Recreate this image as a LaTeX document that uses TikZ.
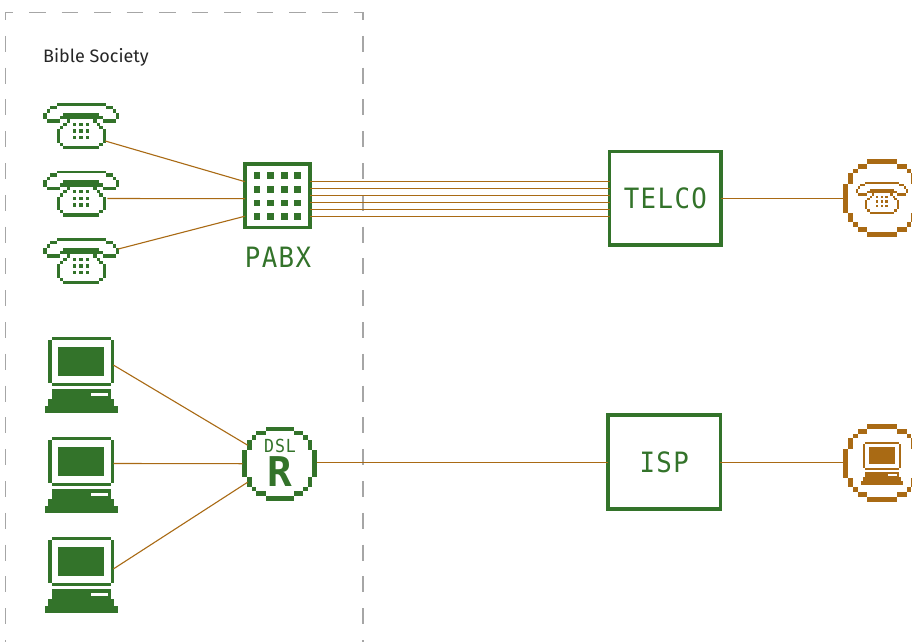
\documentclass[tikz,border=0pt]{standalone}
\usepackage{fontspec}
\setmainfont{Fira Sans}
\newfontfamily\pixfont[FakeStretch=.92,LetterSpace=5]{DejaVu Sans Mono}
\newfontfamily\boldpix{DejaVu Sans Mono}
\definecolor{grn}{HTML}{33732A}
\definecolor{brn}{HTML}{A96A14}
\definecolor{dsh}{HTML}{A6A6A6}
\newcommand{\px}[4]{\fill ({(#1)/3},{(#2)/3}) rectangle ({(#3)/3},{(#4)/3});}
\tikzset{
  x=1pt,y=-1pt,
  link/.style={draw=brn,line width=1.1pt},
  hdash/.style={dsh,line width=1.3pt,dash pattern=on 16.5pt off 16pt,dash phase=9pt},
  vdash/.style={dsh,line width=1.3pt,dash pattern=on 16pt off 15.8pt,dash phase=8.5pt},
  boxnode/.style={draw=grn,line width=3.3pt,fill=white,inner sep=0pt,outer sep=0pt,text=grn},
  holder/.style={inner sep=0pt,outer sep=0pt},
  lbl/.style={font=\pixfont\fontsize{28}{28}\selectfont,text=grn,inner sep=0pt},
  phonepic/.pic={
    \begin{scope}[shift={(-154/3,-40/3)}]
    \px{80}{40}{228}{48}\px{60}{48}{80}{58}\px{228}{48}{248}{58}
    \px{50}{58}{60}{68}\px{248}{58}{258}{68}
    \px{40}{68}{50}{88}\px{258}{68}{268}{88}
    \px{50}{88}{90}{98}\px{218}{88}{258}{98}
    \px{100}{68}{208}{88}\px{90}{78}{100}{88}\px{208}{78}{218}{88}
    \px{110}{88}{120}{98}\px{190}{88}{200}{98}
    \px{100}{98}{110}{108}\px{200}{98}{210}{108}
    \px{90}{108}{100}{118}\px{208}{108}{218}{118}
    \px{80}{118}{90}{158}\px{218}{118}{228}{158}
    \px{90}{158}{100}{168}\px{208}{158}{218}{168}
    \px{100}{168}{208}{178}
    \foreach \a in {128,148,168}{\foreach \b in {98,118,138}{\px{\a}{\b}{\a+10}{\b+10}}}
    \end{scope}
  },
  pcpic/.pic={
    \begin{scope}[shift={(-139/3,-20/3)}]
    \px{50}{20}{228}{30}\px{40}{30}{50}{158}\px{228}{30}{238}{158}\px{50}{158}{228}{168}
    \px{70}{50}{208}{138}
    \px{50}{178}{228}{208}\px{40}{208}{238}{228}\px{30}{228}{248}{248}
    \fill[white] (168/3,188/3) rectangle (218/3,198/3);
    \end{scope}
  },
  ringpic/.pic={
    \begin{scope}[shift={(-134/3,-131/3)}]
    \px{92}{20}{176}{32}\px{64}{32}{92}{46}\px{176}{32}{204}{46}
    \px{50}{46}{64}{60}\px{204}{46}{218}{60}
    \px{36}{60}{50}{90}\px{218}{60}{232}{90}
    \px{22}{90}{36}{172}\px{232}{90}{246}{172}
    \px{36}{172}{50}{200}\px{218}{172}{232}{200}
    \px{50}{200}{64}{214}\px{204}{200}{218}{214}
    \px{64}{214}{92}{228}\px{176}{214}{204}{228}
    \px{92}{228}{176}{242}
    \end{scope}
  }
}
\begin{document}
\begin{tikzpicture}
\useasboundingbox (0,0) rectangle (912,642);
\fill[white] (0,0) rectangle (912,642);
% dashed group boundary
\draw[hdash] (5.5,12.5) -- (363,12.5);
\draw[hdash] (363,12.5) -- (355,12.5);
\draw[vdash] (5.5,12.5) -- (5.5,642);
\draw[vdash] (363,12.5) -- (363,642);
\node[anchor=west,inner sep=0pt,font=\fontsize{18}{18}\selectfont,text=black!85] (grp) at (43,57) {Bible Society};

% phones
\node[holder,minimum width=76pt,minimum height=46pt] (ph1) at (81.3,126) {};
\node[holder,minimum width=76pt,minimum height=46pt] (ph2) at (81.3,193.5) {};
\node[holder,minimum width=76pt,minimum height=46pt] (ph3) at (81.3,261) {};
\pic[fill=grn] at (81.3,103.3) {phonepic};
\pic[fill=grn] at (81.3,170.8) {phonepic};
\pic[fill=grn] at (81.3,238.3) {phonepic};

% computers
\node[holder,minimum width=72pt,minimum height=76pt] (pc1) at (81.3,375) {};
\node[holder,minimum width=72pt,minimum height=76pt] (pc2) at (81.3,475) {};
\node[holder,minimum width=72pt,minimum height=76pt] (pc3) at (81.3,575) {};
\pic[fill=grn] at (81.3,336.7) {pcpic};
\pic[fill=grn] at (81.3,436.7) {pcpic};
\pic[fill=grn] at (81.3,536.7) {pcpic};

% nodes
\node[boxnode,minimum width=65pt,minimum height=63.5pt] (pabx) at (277.5,195.7) {};
\foreach \a in {257,270.6,284.3,297.7}{\foreach \b in {175.7,189.3,203,216.3}{
  \fill[grn] (\a-3.3,\b-3.3) rectangle (\a+3.3,\b+3.3);}}
\node[lbl] (pabxl) at (278,257) {PABX};

\node[boxnode,minimum width=111.4pt,minimum height=93.4pt,lbl] (telco) at (665.4,198.4) {TELCO};
\node[boxnode,minimum width=112.3pt,minimum height=94pt,lbl] (isp) at (664.2,462) {ISP};

\node[holder,circle,minimum size=74pt] (dsl) at (279.7,463.7) {};
\pic[fill=grn] at (279.7,463.7) {ringpic};
\node[inner sep=0pt,text=grn,font=\pixfont\fontsize{18}{18}\selectfont] (dsltxt) at (280,446) {DSL};
\node[inner sep=0pt,text=grn,font=\boldpix\bfseries\fontsize{41}{41}\selectfont] (dslr) at (280,472) {R};

\node[holder,circle,minimum size=78pt] (ext1) at (882,198.3) {};
\pic[fill=brn,scale=1.05] at (882,198.3) {ringpic};
\pic[fill=brn,scale=.69] at (882,182.3) {phonepic};
\node[holder,circle,minimum size=78pt] (ext2) at (882,463.3) {};
\pic[fill=brn,scale=1.05] at (882,463.3) {ringpic};
\pic[fill=brn,scale=.57] at (882,441.7) {pcpic};

% connectors
\draw[link] ([shift={(24,15)}]ph1.center) -- ([yshift=14pt]pabx.west);
\draw[link] ([shift={(26,5)}]ph2.center) -- ([yshift=-3pt]pabx.west);
\draw[link] ([shift={(37,-12)}]ph3.center) -- ([yshift=-20.5pt]pabx.west);
\draw[link] ([shift={(32,-10)}]pc1.center) -- (dsl.150);
\draw[link] ([shift={(32,-11.5)}]pc2.center) -- (dsl.west);
\draw[link] ([shift={(32,-6)}]pc3.center) -- (dsl.210);
\foreach \d in {14.2,7.2,.2,-6.8,-13.8,-20.8}{
  \draw[link] ([yshift=\d pt]pabx.east) -- ([yshift=\d pt]pabx.east -| telco.west);}
\draw[link] ([yshift=-.5pt]isp.west -| dsl.east) -- ([yshift=-.5pt]isp.west);
\draw[link] (telco.east) -- (telco.east -| ext1.west);
\draw[link] ([yshift=-.5pt]isp.east) -- ([yshift=-.5pt]isp.east -| ext2.west);
\end{tikzpicture}
\end{document}
